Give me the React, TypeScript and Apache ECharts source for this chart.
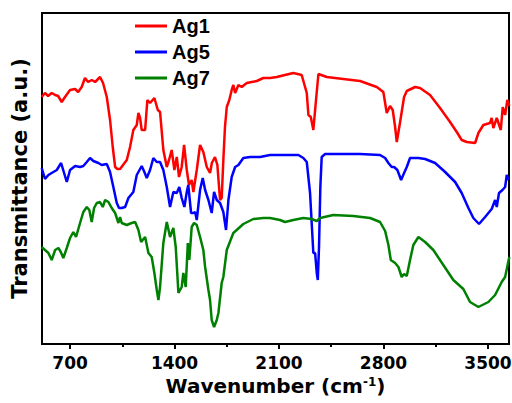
import React, { useEffect, useRef } from "react";
import * as echarts from "echarts";

// Wavenumbers (cm-1) and transmittance (arbitrary units)
const wnAg1 = [510, 532, 553, 577, 600, 620, 644, 666, 700, 734, 754, 778, 800, 821, 845, 868, 901, 921, 946, 968, 986, 1002, 1017, 1035, 1080, 1102, 1124, 1147, 1158, 1169, 1180, 1203, 1218, 1236, 1265, 1288, 1303, 1325, 1348, 1363, 1381, 1399, 1415, 1430, 1448, 1464, 1482, 1497, 1515, 1526, 1549, 1571, 1593, 1616, 1638, 1650, 1671, 1687, 1705, 1716, 1727, 1738, 1750, 1767, 1783, 1794, 1806, 1828, 1850, 1884, 1917, 1951, 1995, 2040, 2085, 2140, 2196, 2252, 2286, 2297, 2313, 2330, 2348, 2364, 2420, 2531, 2643, 2755, 2799, 2822, 2844, 2862, 2878, 2889, 2906, 2922, 2938, 2956, 3012, 3045, 3112, 3179, 3246, 3291, 3324, 3358, 3414, 3436, 3469, 3514, 3525, 3536, 3559, 3586, 3599, 3615, 3630, 3643];
const tAg1 = [248, 252, 249, 252, 250, 249, 243, 248, 255, 256, 253, 258, 267, 263, 265, 263, 268, 262, 248, 225, 198, 178, 176, 176, 185, 198, 215, 220, 232, 227, 215, 215, 245, 242, 247, 235, 233, 195, 178, 185, 195, 175, 188, 168, 178, 200, 175, 160, 165, 153, 175, 200, 193, 178, 172, 182, 188, 180, 145, 147, 185, 218, 238, 245, 255, 260, 252, 260, 258, 262, 263, 264, 267, 267, 268, 270, 272, 270, 252, 230, 228, 215, 245, 271, 268, 266, 264, 258, 253, 232, 239, 235, 218, 203, 218, 233, 248, 254, 258, 257, 250, 237, 223, 213, 205, 203, 202, 212, 220, 222, 227, 217, 227, 215, 238, 230, 245, 239];

const wnAg5 = [510, 532, 555, 588, 611, 640, 660, 678, 700, 734, 767, 789, 812, 834, 856, 890, 912, 946, 968, 990, 1013, 1028, 1046, 1069, 1091, 1124, 1147, 1180, 1198, 1214, 1236, 1258, 1281, 1303, 1325, 1348, 1370, 1392, 1415, 1432, 1448, 1466, 1482, 1492, 1511, 1526, 1538, 1549, 1571, 1589, 1605, 1627, 1649, 1665, 1683, 1705, 1727, 1745, 1761, 1783, 1806, 1828, 1861, 1906, 1973, 2040, 2118, 2230, 2263, 2286, 2308, 2319, 2330, 2342, 2353, 2360, 2368, 2377, 2386, 2409, 2543, 2643, 2777, 2811, 2833, 2855, 2871, 2893, 2918, 2938, 2956, 2978, 3034, 3079, 3146, 3213, 3280, 3324, 3369, 3402, 3440, 3481, 3525, 3548, 3559, 3574, 3597, 3615, 3626, 3637];
const tAg5 = [177, 166, 170, 173, 175, 182, 172, 163, 175, 179, 178, 179, 183, 187, 184, 182, 180, 181, 173, 158, 142, 137, 137, 138, 147, 153, 170, 179, 173, 167, 175, 187, 183, 183, 175, 158, 138, 153, 152, 158, 147, 138, 153, 160, 132, 132, 133, 125, 155, 167, 155, 145, 132, 153, 145, 142, 133, 115, 145, 168, 178, 180, 187, 188, 188, 190, 190, 190, 187, 183, 152, 122, 92, 92, 72, 65, 98, 158, 188, 191, 191, 191, 190, 187, 182, 178, 178, 175, 165, 172, 178, 187, 187, 186, 182, 173, 163, 152, 137, 127, 121, 128, 136, 145, 138, 152, 155, 158, 170, 165];

const wnAg7 = [510, 532, 555, 577, 600, 622, 638, 655, 678, 700, 722, 740, 767, 789, 812, 829, 845, 861, 879, 901, 919, 935, 957, 979, 1002, 1024, 1035, 1046, 1080, 1113, 1136, 1158, 1176, 1203, 1225, 1247, 1265, 1281, 1292, 1303, 1325, 1348, 1370, 1392, 1408, 1426, 1448, 1459, 1475, 1489, 1499, 1515, 1531, 1549, 1571, 1593, 1605, 1627, 1638, 1649, 1665, 1683, 1694, 1716, 1727, 1750, 1794, 1861, 1928, 1995, 2040, 2107, 2140, 2196, 2263, 2319, 2353, 2375, 2464, 2598, 2710, 2777, 2811, 2833, 2849, 2878, 2900, 2922, 2938, 2956, 2978, 3000, 3034, 3079, 3134, 3201, 3268, 3335, 3380, 3436, 3503, 3548, 3592, 3615, 3643];
const tAg7 = [98, 95, 92, 85, 95, 97, 93, 87, 97, 107, 113, 108, 122, 133, 138, 135, 123, 137, 142, 143, 138, 145, 143, 137, 132, 122, 128, 122, 120, 122, 123, 115, 103, 108, 92, 88, 72, 55, 45, 58, 102, 123, 108, 117, 98, 52, 58, 72, 58, 102, 85, 118, 122, 120, 108, 95, 78, 55, 45, 25, 18, 25, 32, 62, 68, 95, 112, 121, 126, 127, 127, 125, 123, 125, 127, 126, 124, 127, 130, 129, 127, 123, 114, 100, 85, 82, 78, 68, 71, 69, 85, 100, 108, 103, 95, 80, 65, 56, 43, 38, 43, 50, 63, 68, 88];

const seriesNames = ["Ag1", "Ag5", "Ag7"];
const seriesColors = ["#ff0000", "#0000ff", "#008000"];
const majorTicks = [700, 1400, 2100, 2800, 3500];
const minorTicks = [1050, 1750, 2450, 3150];
const xMin = 512;
const xMax = 3641;

const zip = (xs: number[], ys: number[]) => xs.map((x, i) => [x, ys[i]]);

const AXIS_FONT = "DejaVu Sans";

export default function App() {
  const ref = useRef<HTMLDivElement>(null);
  useEffect(() => {
    if (!ref.current) return;
    const chart = echarts.init(ref.current, null, { renderer: "svg" });
    const datasets = [zip(wnAg1, tAg1), zip(wnAg5, tAg5), zip(wnAg7, tAg7)];
    chart.setOption({
      animation: false,
      backgroundColor: "#ffffff",
      grid: {
        left: 42,
        right: 3,
        top: 13,
        bottom: 59,
        show: true,
        borderColor: "#000",
        borderWidth: 2,
        containLabel: false,
        outerBoundsMode: "none",
      },
      legend: {
        orient: "vertical",
        left: 135,
        top: 16,
        padding: 0,
        itemGap: 6,
        itemWidth: 32,
        itemHeight: 3,
        icon: "rect",
        data: seriesNames,
        textStyle: {
          fontFamily: "Liberation Sans",
          fontWeight: "bold",
          fontSize: 20,
          color: "#000",
        },
      },
      xAxis: [
        {
          type: "value",
          min: xMin,
          max: xMax,
          position: "bottom",
          name: "Wavenumber (cm{sup|-1})",
          nameLocation: "middle",
          nameGap: 21,
          nameTextStyle: {
            fontFamily: AXIS_FONT,
            fontWeight: "bold",
            fontSize: 20,
            color: "#000",
            rich: {
              sup: {
                fontFamily: AXIS_FONT,
                fontWeight: "bold",
                fontSize: 12,
                color: "#000",
                verticalAlign: "top",
              },
            },
          },
          axisLine: { show: true, lineStyle: { color: "#000", width: 2 } },
          axisTick: {
            show: true,
            inside: false,
            length: 5,
            customValues: majorTicks,
            lineStyle: { color: "#000", width: 2 },
          },
          axisLabel: {
            show: true,
            customValues: majorTicks,
            formatter: (v: number) => String(v),
            margin: 10,
            fontFamily: AXIS_FONT,
            fontWeight: "bold",
            fontSize: 17,
            color: "#000",
          },
          splitLine: { show: false },
        },
        {
          type: "value",
          min: xMin,
          max: xMax,
          position: "bottom",
          axisLine: { show: false },
          axisTick: {
            show: true,
            inside: false,
            length: 3,
            customValues: minorTicks,
            lineStyle: { color: "#000", width: 2 },
          },
          axisLabel: { show: false },
          splitLine: { show: false },
        },
      ],
      yAxis: {
        type: "value",
        min: 1,
        max: 332,
        name: "Transmittance (a.u.)",
        nameLocation: "middle",
        nameGap: 12,
        nameTextStyle: {
          fontFamily: AXIS_FONT,
          fontWeight: "bold",
          fontSize: 21,
          color: "#000",
        },
        axisLine: { show: true, lineStyle: { color: "#000", width: 2 } },
        axisTick: { show: false },
        axisLabel: { show: false },
        splitLine: { show: false },
      },
      series: seriesNames.map((name, i) => ({
        name,
        type: "line",
        data: datasets[i],
        showSymbol: false,
        symbol: "none",
        lineStyle: { color: seriesColors[i], width: 2.5 },
        itemStyle: { color: seriesColors[i] },
      })),
    });
    return () => chart.dispose();
  }, []);
  return <div ref={ref} style={{ width: 512, height: 403, position: "absolute", left: 0, top: 0 }} />;
}
